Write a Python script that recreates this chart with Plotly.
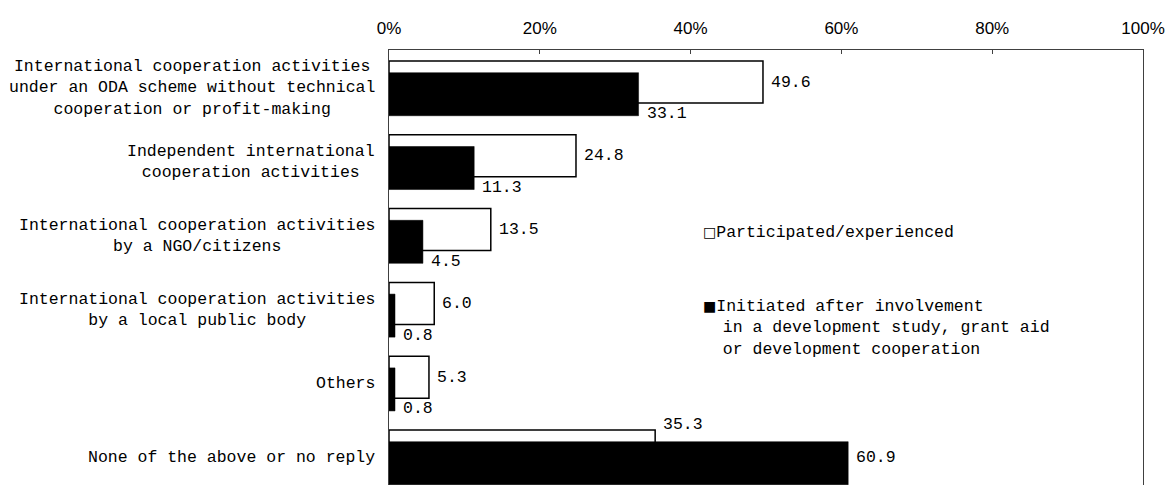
import plotly.graph_objects as go

# Survey categories (top to bottom) and the two response series, in percent
categories = [
    "International cooperation activities<br>under an ODA scheme without technical<br>cooperation or profit-making",
    "Independent international<br>cooperation activities",
    "International cooperation activities<br>by a NGO/citizens",
    "International cooperation activities<br>by a local public body",
    "Others",
    "None of the above or no reply",
]
participated = [49.6, 24.8, 13.5, 6.0, 5.3, 35.3]
initiated = [33.1, 11.3, 4.5, 0.8, 0.8, 60.9]

x_ticks = [0, 20, 40, 60, 80, 100]
x_tick_labels = ["0%", "20%", "40%", "60%", "80%", "100%"]

series_names = [
    "Participated/experienced",
    "Initiated after involvement<br>\u00a0\u00a0in a development study, grant aid<br>\u00a0\u00a0or development cooperation",
]

MONO = "Liberation Mono, DejaVu Sans Mono, monospace"
NARROW = "Liberation Sans Narrow, Arial Narrow, Liberation Sans, Arial, sans-serif"
SWATCH = '<span style="font-family:DejaVu Sans;font-size:14px">{}</span>'

# Overlapping bar geometry (in category units)
W_OFF, W_WID = -0.3706, 0.569
B_OFF, B_WID = -0.212, 0.583

pos = list(range(len(categories)))

fig = go.Figure()
fig.add_trace(go.Bar(
    y=pos, x=participated, orientation="h",
    offset=W_OFF, width=W_WID,
    marker=dict(color="white", line=dict(color="black", width=1.5)),
    name="Participated/experienced", showlegend=False,
))
fig.add_trace(go.Bar(
    y=pos, x=initiated, orientation="h",
    offset=B_OFF, width=B_WID,
    marker=dict(color="black", line=dict(color="black", width=0.5)),
    name="Initiated", showlegend=False,
))

annotations = []
# Category labels, centred line by line, to the left of the plot
for i, cat in enumerate(categories):
    annotations.append(dict(
        x=0, xref="paper", xanchor="right", xshift=-12,
        y=i, yref="y", yanchor="middle",
        text=cat, align="center", showarrow=False,
        font=dict(family=MONO, size=16.5, color="black"),
    ))

# Value labels
for i, (w, b) in enumerate(zip(participated, initiated)):
    if w >= b:
        wy, wshift = i + W_OFF + W_WID / 2, 0
        by, bshift = i + B_OFF + B_WID, 2
    else:
        wy, wshift = i + W_OFF, 6
        by, bshift = i, 0
    annotations.append(dict(
        x=w, y=wy, xref="x", yref="y", xanchor="left", yanchor="middle",
        xshift=6, yshift=wshift, text=f"{w:.1f}", showarrow=False,
        font=dict(family=MONO, size=16.5, color="black"),
    ))
    annotations.append(dict(
        x=b, y=by, xref="x", yref="y", xanchor="left", yanchor="middle",
        xshift=6, yshift=bshift, text=f"{b:.1f}", showarrow=False,
        font=dict(family=MONO, size=16.5, color="black"),
    ))

# Legend entries
annotations.append(dict(
    x=(701 - 389) / 754, xref="paper", xanchor="left",
    y=1 - (232.5 - 50) / 435, yref="paper", yanchor="middle",
    text=SWATCH.format("\u25a1") + series_names[0], align="left", showarrow=False,
    font=dict(family=MONO, size=16.5, color="black"),
))
annotations.append(dict(
    x=(701 - 389) / 754, xref="paper", xanchor="left",
    y=1 - (328 - 50) / 435, yref="paper", yanchor="middle",
    text=SWATCH.format("\u25a0") + series_names[1], align="left", showarrow=False,
    font=dict(family=MONO, size=16.5, color="black"),
))

fig.update_layout(
    width=1165, height=485,
    margin=dict(l=389, r=22, t=50, b=0, pad=0),
    paper_bgcolor="white", plot_bgcolor="white",
    barmode="overlay",
    annotations=annotations,
    showlegend=False,
)
fig.update_xaxes(
    side="top", range=[0, 100],
    tickvals=x_ticks, ticktext=x_tick_labels,
    ticks="inside", ticklen=4, tickcolor="#404040", tickwidth=1,
    showline=True, linecolor="#404040", linewidth=1,
    showgrid=False, zeroline=False,
    tickfont=dict(family=NARROW, size=17, color="black"),
    ticklabelstandoff=8,
)
fig.update_yaxes(
    range=[5.3747, -0.5197],
    showticklabels=False, ticks="",
    showline=True, mirror=True, linecolor="#404040", linewidth=1,
    showgrid=False, zeroline=False,
)

fig.write_html("out.html")
